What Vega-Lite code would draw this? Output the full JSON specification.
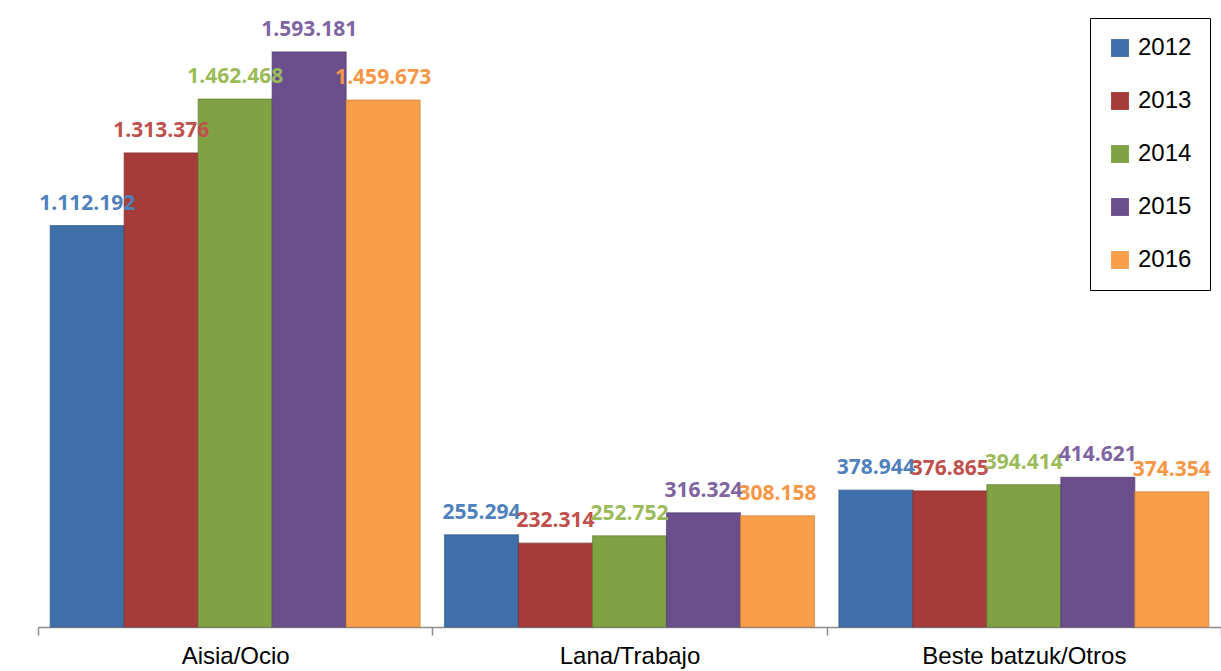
{
  "$schema": "https://vega.github.io/schema/vega-lite/v6.json",
  "width": 1183,
  "height": 627,
  "autosize": {"type": "none"},
  "padding": {"left": 38, "top": 0, "right": 0, "bottom": 44},
  "background": "white",
  "config": {
    "view": {"stroke": null},
    "locale": {"number": {"decimal": ",", "thousands": ".", "grouping": [3], "currency": ["", " €"]}}
  },
  "data": {
    "values": [
      {"category": "Aisia/Ocio", "year": "2012", "value": 1112192},
      {"category": "Aisia/Ocio", "year": "2013", "value": 1313376},
      {"category": "Aisia/Ocio", "year": "2014", "value": 1462468},
      {"category": "Aisia/Ocio", "year": "2015", "value": 1593181},
      {"category": "Aisia/Ocio", "year": "2016", "value": 1459673},
      {"category": "Lana/Trabajo", "year": "2012", "value": 255294},
      {"category": "Lana/Trabajo", "year": "2013", "value": 232314},
      {"category": "Lana/Trabajo", "year": "2014", "value": 252752},
      {"category": "Lana/Trabajo", "year": "2015", "value": 316324},
      {"category": "Lana/Trabajo", "year": "2016", "value": 308158},
      {"category": "Beste batzuk/Otros", "year": "2012", "value": 378944},
      {"category": "Beste batzuk/Otros", "year": "2013", "value": 376865},
      {"category": "Beste batzuk/Otros", "year": "2014", "value": 394414},
      {"category": "Beste batzuk/Otros", "year": "2015", "value": 414621},
      {"category": "Beste batzuk/Otros", "year": "2016", "value": 374354}
    ]
  },
  "encoding": {
    "x": {
      "field": "category", "type": "nominal", "sort": null,
      "scale": {"paddingInner": 0, "paddingOuter": 0},
      "axis": {
        "title": null, "labelAngle": 0, "labelFont": "Liberation Sans", "labelFontSize": 24,
        "labelLimit": 400, "labelColor": "black", "labelPadding": 9, "domainColor": "#8c8c8c", "domainWidth": 1.5,
        "tickColor": "#8c8c8c", "tickWidth": 1.5, "tickSize": 8, "tickBand": "extent"
      }
    },
    "xOffset": {
      "field": "year", "type": "nominal",
      "scale": {"paddingInner": 0, "paddingOuter": 0.165}
    },
    "y": {
      "field": "value", "type": "quantitative",
      "scale": {"domain": [0, 1737000], "nice": false, "zero": true},
      "axis": null
    }
  },
  "layer": [
    {
      "mark": {"type": "bar", "strokeWidth": 1.2, "strokeOpacity": 0.6},
      "encoding": {
        "color": {
          "field": "year", "type": "nominal",
          "scale": {"domain": ["2012", "2013", "2014", "2015", "2016"], "range": ["#3f6fa8", "#a63c3a", "#7fa243", "#6b4f8d", "#f99f4a"]},
          "legend": {
            "title": null, "orient": "none", "legendX": 1052, "legendY": 18,
            "strokeColor": "black", "padding": 18, "symbolType": "square", "symbolSize": 320,
            "symbolStrokeWidth": 0, "labelFont": "Liberation Sans", "labelFontSize": 24,
            "labelColor": "black", "rowPadding": 29, "labelOffset": 6, "symbolOffset": 0
          }
        },
        "stroke": {
          "field": "year", "type": "nominal",
          "scale": {"domain": ["2012", "2013", "2014", "2015", "2016"], "range": ["#2c5382", "#7d2b2a", "#5f7b31", "#4f3a6a", "#c97a33"]},
          "legend": null
        }
      }
    },
    {
      "mark": {"type": "text", "baseline": "middle", "dy": -22, "font": "Open Sans", "fontWeight": "bold", "fontSize": 21},
      "encoding": {
        "text": {"field": "value", "type": "quantitative", "format": ",d"},
        "color": {
          "field": "year", "type": "nominal",
          "scale": {"domain": ["2012", "2013", "2014", "2015", "2016"], "range": ["#4f81bd", "#c0504d", "#9bbb59", "#8064a2", "#f79646"]},
          "legend": null
        }
      }
    }
  ],
  "resolve": {"scale": {"color": "independent"}}
}
